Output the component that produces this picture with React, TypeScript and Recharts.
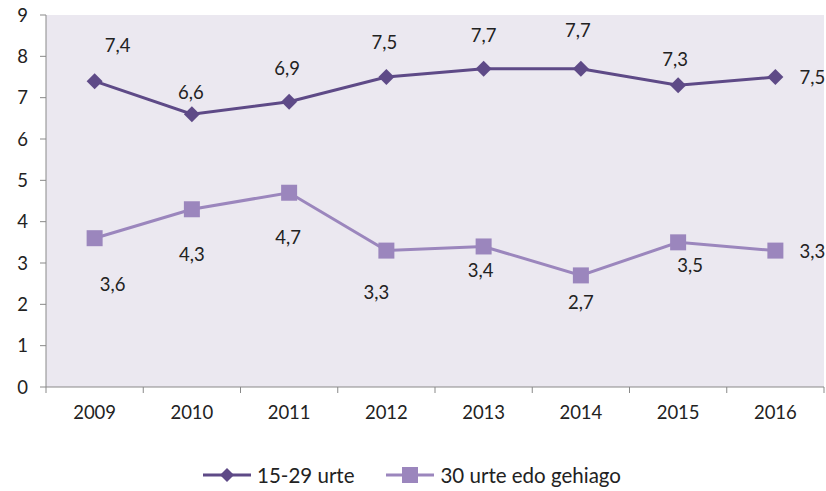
import React from 'react';
import { LineChart, Line, XAxis, YAxis, CartesianGrid, Legend, LabelList } from 'recharts';

const years = ['2009', '2010', '2011', '2012', '2013', '2014', '2015', '2016'];
const young = [7.4, 6.6, 6.9, 7.5, 7.7, 7.7, 7.3, 7.5];
const older = [3.6, 4.3, 4.7, 3.3, 3.4, 2.7, 3.5, 3.3];
const yTicks = [0, 1, 2, 3, 4, 5, 6, 7, 8, 9];

const DARK = '#5e4a87';
const LIGHT = '#9b86bd';
const AXIS = '#898989';
const FONT = 'Lato, "Open Sans", sans-serif';

// label nudges per point (dx, dy) so the numbers sit like the original
const youngShift = [[23, -36], [-1, -22], [-2, -34], [-2, -35], [0, -34], [-3, -39], [-3, -26], [37, 0]];
const olderShift = [[18, 46], [0, 45], [-1, 44], [-10, 41], [-3, 24], [0, 27], [12, 23], [37, 0]];

const data = years.map((year, i) => ({ x: i, year, young: young[i], older: older[i] }));
const xTicks = years.flatMap((_, i) => [i - 0.5, i]).concat([years.length - 0.5]);

const fmt = (v: number) => v.toFixed(1).replace('.', ',');

const Diamond = (props: any) => {
  const { cx, cy } = props;
  if (cx == null || cy == null) return null;
  const r = 8;
  return <polygon points={`${cx},${cy - r} ${cx + r},${cy} ${cx},${cy + r} ${cx - r},${cy}`} fill={DARK} />;
};

const Square = (props: any) => {
  const { cx, cy } = props;
  if (cx == null || cy == null) return null;
  return <rect x={cx - 8} y={cy - 8} width={16} height={16} fill={LIGHT} />;
};

const makeLabel = (shift: number[][]) => (props: any) => {
  const { x, y, value, index } = props;
  const [dx, dy] = shift[index] || [0, -30];
  return (
    <text x={x + dx} y={y + dy} textAnchor="middle" dominantBaseline="central"
      fontSize={18.5} fontFamily={FONT} fill="#222">
      {fmt(value)}
    </text>
  );
};

const XTick = (props: any) => {
  const { x, y, payload } = props;
  const v = payload.value;
  if (Number.isInteger(v)) {
    return (
      <text x={x} y={y + 25} textAnchor="middle" dominantBaseline="central"
        fontSize={18.5} fontFamily={FONT} fill="#222">
        {years[v]}
      </text>
    );
  }
  return <line x1={x} x2={x} y1={y} y2={y + 6} stroke={AXIS} strokeWidth={1} />;
};

const LegendContent = () => (
  <div style={{ display: 'flex', justifyContent: 'center', alignItems: 'center', height: 50, paddingTop: 18, boxSizing: 'border-box', fontFamily: FONT, fontSize: 20.5, color: '#222' }}>
    <svg width={50} height={18} style={{ marginRight: 4 }}>
      <line x1={0} x2={48} y1={9} y2={9} stroke={DARK} strokeWidth={3} />
      <polygon points="24,2 31,9 24,16 17,9" fill={DARK} />
    </svg>
    <span style={{ marginRight: 32 }}>15-29 urte</span>
    <svg width={50} height={18} style={{ marginRight: 4 }}>
      <line x1={0} x2={48} y1={9} y2={9} stroke={LIGHT} strokeWidth={3} />
      <rect x={16} y={1} width={16} height={16} fill={LIGHT} />
    </svg>
    <span>30 urte edo gehiago</span>
  </div>
);

export default function App() {
  return (
    <div style={{ position: 'absolute', left: 0, top: 0, width: 826, height: 491, background: '#fff' }}>
      <LineChart width={826} height={491} data={data} margin={{ top: 15, right: 2, bottom: 0, left: 0 }}>
        <CartesianGrid fill="#ebe8f0" horizontal={false} vertical={false} stroke="none" />
        <XAxis dataKey="x" type="number" domain={[-0.5, years.length - 0.5]} ticks={xTicks} interval={0}
          tick={<XTick />} tickLine={false} tickSize={0} tickMargin={0} height={54}
          axisLine={{ stroke: AXIS }} />
        <YAxis domain={[0, 9]} ticks={yTicks} interval={0} width={46} tickSize={6} tickMargin={12}
          axisLine={{ stroke: AXIS }} tickLine={{ stroke: AXIS }}
          tick={{ fill: '#222', fontSize: 18.5, fontFamily: FONT }} />
        <Legend verticalAlign="bottom" height={50} content={<LegendContent />} />
        <Line dataKey="young" stroke={DARK} strokeWidth={3} dot={<Diamond />} activeDot={false} isAnimationActive={false}>
          <LabelList dataKey="young" content={makeLabel(youngShift)} />
        </Line>
        <Line dataKey="older" stroke={LIGHT} strokeWidth={3} dot={<Square />} activeDot={false} isAnimationActive={false}>
          <LabelList dataKey="older" content={makeLabel(olderShift)} />
        </Line>
      </LineChart>
    </div>
  );
}
